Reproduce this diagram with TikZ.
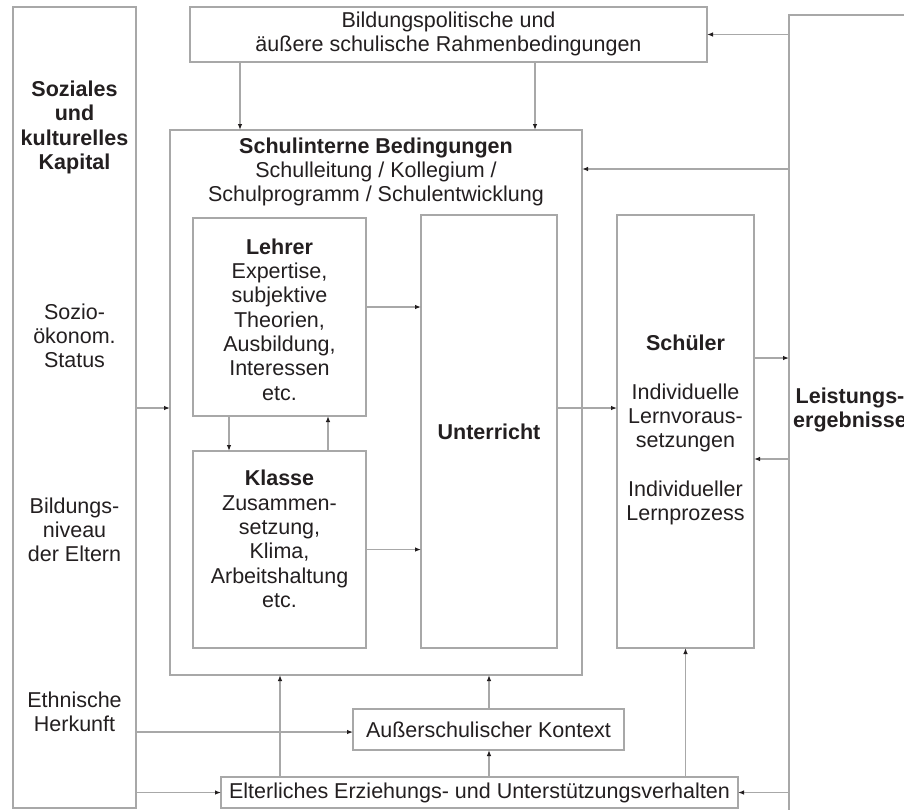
\documentclass[tikz,border=0pt]{standalone}
\usepackage{fontspec}
\setmainfont{Liberation Sans}
\usetikzlibrary{arrows.meta}
\definecolor{lc}{HTML}{A8A8A8}
\definecolor{tc}{HTML}{231F20}
\begin{document}
\begin{tikzpicture}[x=1pt,y=-1pt,
  box/.style={draw=lc,line width=1.1pt,inner sep=0pt,outer sep=0pt,rectangle,fill=white},
  txt/.style={text=tc,align=center,inner sep=0pt,font=\fontsize{21.5}{24.3}\selectfont},
  btxt/.style={text=tc,align=center,inner sep=0pt,font=\fontsize{21.5}{24.3}\selectfont\bfseries},
  arr/.style={draw=lc,line width=1.1pt,-{Latex[length=6pt,width=4.5pt,color=tc]}}]
\useasboundingbox (0,0) rectangle (904,809);
\clip (0,0) rectangle (904,809);
% boxes
\node[box,minimum width=123pt,minimum height=801pt] (kapital) at (74.5,407.5) {};
\node[box,minimum width=517pt,minimum height=55pt] (rahmen) at (448.5,34.5) {};
\node[box,minimum width=131pt,minimum height=805pt] (leistung) at (854.5,417.5) {};
\node[box,minimum width=412pt,minimum height=545pt] (schulintern) at (376,402.5) {};
\node[box,minimum width=173pt,minimum height=198pt] (lehrer) at (279.5,317) {};
\node[box,minimum width=173pt,minimum height=197pt] (klasse) at (279.5,549.5) {};
\node[box,minimum width=136pt,minimum height=433pt] (unterricht) at (489,431.5) {};
\node[box,minimum width=137pt,minimum height=433pt] (schueler) at (685.5,431.5) {};
\node[box,minimum width=271pt,minimum height=41pt] (ausser) at (488.5,729.5) {};
\node[box,minimum width=517pt,minimum height=31pt] (eltern) at (479.5,792.5) {};
% texts
\node[btxt] (tkapital) at (74.5,127.5) {Soziales\\und\\kulturelles\\Kapital};
\node[txt] (tsozio) at (74.5,336) {Sozio-\\ökonom.\\Status};
\node[txt] (tbildung) at (74.5,530) {Bildungs-\\niveau\\der Eltern};
\node[txt] (tethn) at (74.5,711.5) {Ethnische\\Herkunft};
\node[txt] (trahmen) at (448.5,34) {Bildungspolitische und\\äußere schulische Rahmenbedingungen};
\node[txt] (tschul) at (376,172) {\textbf{Schulinterne Bedingungen}\\Schulleitung / Kollegium /\\Schulprogramm / Schulentwicklung};
\node[txt] (tlehrer) at (279.5,319.5) {\textbf{Lehrer}\\Expertise,\\subjektive\\Theorien,\\Ausbildung,\\Interessen\\etc.};
\node[txt] (tklasse) at (279.5,539) {\textbf{Klasse}\\Zusammen-\\setzung,\\Klima,\\Arbeitshaltung\\etc.};
\node[btxt] (tunter) at (489,432) {Unterricht};
\node[txt] (tschueler) at (685.5,430) {\textbf{Schüler}\\\strut\\Individuelle\\Lernvoraus-\\setzungen\\\strut\\Individueller\\Lernprozess};
\node[btxt] (tleist) at (850,410) {Leistungs-\\ergebnisse};
\node[txt] (tausser) at (488.5,730) {Außerschulischer Kontext};
\node[txt] (teltern) at (479.5,793) {Elterliches Erziehungs- und Unterstützungsverhalten};
% arrows
\draw[arr] ([xshift=50pt]rahmen.south west) -- ([xshift=50pt]rahmen.south west |- schulintern.north);
\draw[arr] ([xshift=345pt]rahmen.south west) -- ([xshift=345pt]rahmen.south west |- schulintern.north);
\draw[arr] (leistung.west |- rahmen.east) -- (rahmen.east);
\draw[arr] ([yshift=-154pt]leistung.north west) -- ([yshift=-154pt]leistung.north west -| schulintern.east);
\draw[arr] (kapital.east |- unterricht.east) ++(0,-23.5) coordinate (k1) -- (k1 -| schulintern.west);
\draw[arr] ([yshift=-89pt]lehrer.north east) -- ([yshift=-89pt]lehrer.north east -| unterricht.west);
\draw[arr] (klasse.east) -- (klasse.east -| unterricht.west);
\draw[arr] ([xshift=36pt]lehrer.south west) -- ([xshift=36pt]lehrer.south west |- klasse.north);
\draw[arr] ([xshift=135pt]klasse.north west) -- ([xshift=135pt]klasse.north west |- lehrer.south);
\draw[arr] ([yshift=23.5pt]unterricht.east) -- ([yshift=23.5pt]unterricht.east -| schueler.west);
\draw[arr] ([yshift=-143pt]schueler.north east) -- ([yshift=-143pt]schueler.north east -| leistung.west);
\draw[arr] ([yshift=-244pt]leistung.north west |- schueler.north) -- ([yshift=-244pt]schueler.north east);
\draw[arr] (kapital.east |- ausser.west) ++(0,2.5) coordinate (k2) -- (k2 -| ausser.west);
\draw[arr] (kapital.east |- eltern.west) -- (eltern.west);
\draw[arr] ([xshift=59pt]eltern.north west) -- ([xshift=59pt]eltern.north west |- schulintern.south);
\draw[arr] (eltern.north -| ausser.south) ++(0.5,0) coordinate (e1) -- (e1 |- ausser.south);
\draw[arr] (ausser.north -| e1) -- (e1 |- schulintern.south);
\draw[arr] (eltern.north -| schueler.south) -- (schueler.south);
\draw[arr] (leistung.west |- eltern.east) -- (eltern.east);
\end{tikzpicture}
\end{document}
